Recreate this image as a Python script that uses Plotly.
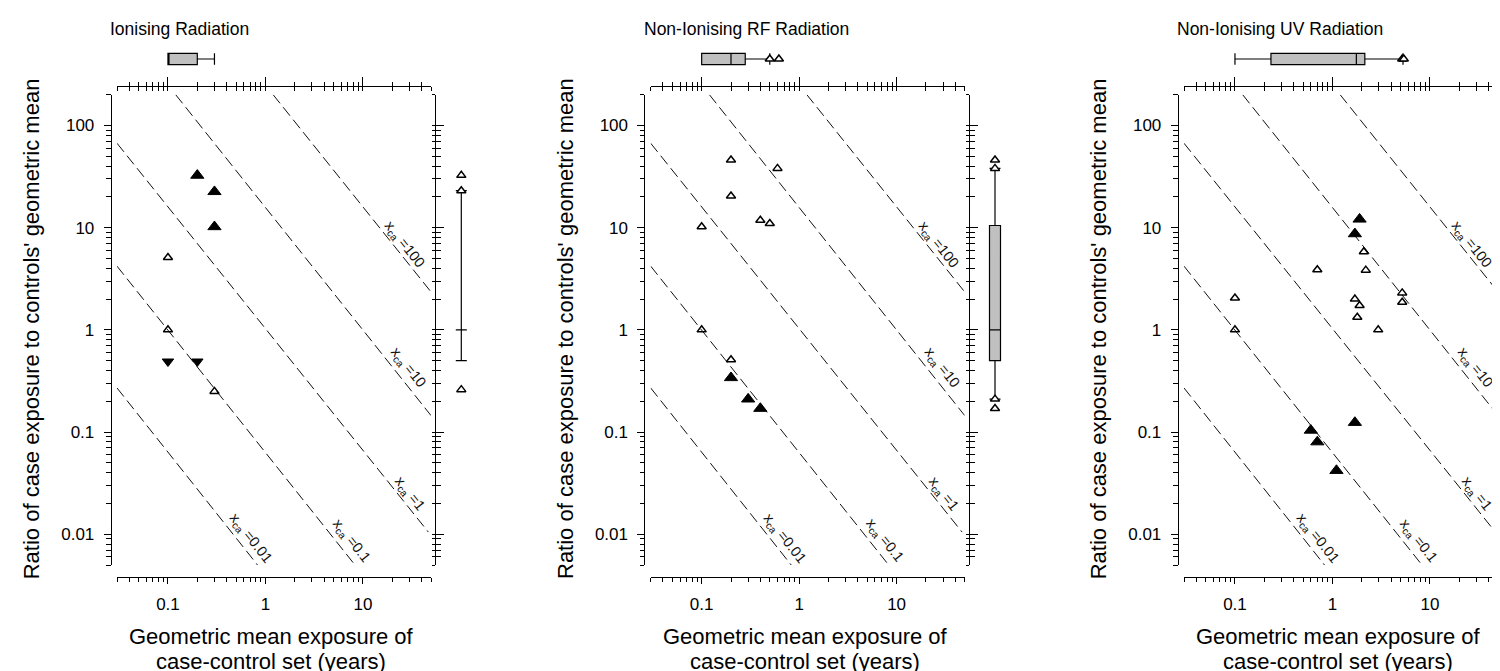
import math
import plotly.graph_objects as go

W, H = 1500, 671
FONT = "Arial, Liberation Sans, sans-serif"

# ---------------- data ----------------
panel_titles = ["Ionising Radiation", "Non-Ionising RF Radiation", "Non-Ionising UV Radiation"]

# Ionising radiation
ion_filled_up_x = [0.2, 0.3, 0.3]
ion_filled_up_y = [32.5, 22.5, 10.2]
ion_open_x = [0.1, 0.1, 0.3]
ion_open_y = [5.1, 1.0, 0.25]
ion_filled_down_x = [0.1, 0.2]
ion_filled_down_y = [0.49, 0.49]

# Non-ionising RF radiation
rf_filled_up_x = [0.2, 0.3, 0.4]
rf_filled_up_y = [0.34, 0.21, 0.17]
rf_open_x = [0.2, 0.6, 0.2, 0.1, 0.4, 0.5, 0.1, 0.2]
rf_open_y = [46, 38, 20.4, 10.2, 11.8, 11.0, 1.0, 0.51]

# Non-ionising UV radiation
uv_filled_up_x = [1.9, 1.7, 1.7, 0.6, 0.7, 1.1]
uv_filled_up_y = [12.1, 8.7, 0.124, 0.104, 0.080, 0.042]
uv_open_x = [0.1, 0.1, 0.7, 2.1, 2.2, 1.7, 1.9, 1.8, 2.95, 5.2, 5.2]
uv_open_y = [2.05, 1.0, 3.87, 5.8, 3.84, 2.0, 1.73, 1.33, 1.0, 2.3, 1.86]

# box plot statistics: [lower whisker, q1, median, q3, upper whisker]
ion_xbox = [0.1, 0.1, 0.1, 0.2, 0.3]
ion_xbox_out = []
ion_ybox = [0.5, 1.0, 1.0, 1.0, 23]
ion_ybox_out = [32.5, 23, 0.26]
rf_xbox = [0.1, 0.1, 0.2, 0.28, 0.5]
rf_xbox_out = [0.5, 0.62]
rf_ybox = [0.21, 0.5, 1.0, 10.5, 38]
rf_ybox_out = [46, 38, 0.21, 0.17]
uv_xbox = [0.1, 0.234, 1.76, 2.15, 5.3]
uv_xbox_out = [5.2, 5.4]

# reference lines of constant case exposure (x_ca), endpoints
iso_levels = ["0.01", "0.1", "1", "10", "100"]
iso_x0 = [0.03, 0.03, 0.03, 0.12, 1.2]
iso_y0 = [0.27, 4.2, 67, 200, 200]
iso_x1 = [0.83, 8.3, 47, 50, 50]
iso_y1 = [0.005, 0.005, 0.0105, 0.145, 2.35]
iso_label_x = [0.71, 7.6, 30, 29, 26.8]
iso_label_y = [0.009, 0.0086, 0.0247, 0.42, 6.8]

# axes
x_range = [0.03, 50]
y_range = [0.005, 200]
x_tickvals = [0.1, 1, 10]
x_ticktext = ["0.1", "1", "10"]
y_tickvals = [0.01, 0.1, 1, 10, 100]
y_ticktext = ["0.01", "0.1", "1", "10", "100"]
x_minor = [0.03, 0.04, 0.05, 0.06, 0.07, 0.08, 0.09,
           0.2, 0.3, 0.4, 0.5, 0.6, 0.7, 0.8, 0.9,
           2, 3, 4, 5, 6, 7, 8, 9, 20, 30, 40, 50]
y_minor = [0.005, 0.006, 0.007, 0.008, 0.009,
           0.02, 0.03, 0.04, 0.05, 0.06, 0.07, 0.08, 0.09,
           0.2, 0.3, 0.4, 0.5, 0.6, 0.7, 0.8, 0.9,
           2, 3, 4, 5, 6, 7, 8, 9,
           20, 30, 40, 50, 60, 70, 80, 90, 200]

x_title_lines = ["Geometric mean exposure of", "case-control set (years)"]
y_title = "Ratio of case exposure to controls' geometric mean"

panels = [
    dict(filled_up=(ion_filled_up_x, ion_filled_up_y), open=(ion_open_x, ion_open_y),
         filled_down=(ion_filled_down_x, ion_filled_down_y),
         xbox=ion_xbox, xbox_out=ion_xbox_out, ybox=ion_ybox, ybox_out=ion_ybox_out),
    dict(filled_up=(rf_filled_up_x, rf_filled_up_y), open=(rf_open_x, rf_open_y),
         filled_down=None,
         xbox=rf_xbox, xbox_out=rf_xbox_out, ybox=rf_ybox, ybox_out=rf_ybox_out),
    dict(filled_up=(uv_filled_up_x, uv_filled_up_y), open=(uv_open_x, uv_open_y),
         filled_down=None,
         xbox=uv_xbox, xbox_out=uv_xbox_out, ybox=None, ybox_out=[]),
]
offsets = [0, 533.7, 1067]


def fx(px):
    return px / W


def fy(py):
    return 1 - py / H


def aid(n):
    return "" if n == 1 else str(n)


lx = [math.log10(v) for v in x_range]
ly = [math.log10(v) for v in y_range]

fig = go.Figure()
layout = {}
annotations = []

tickfont = dict(size=17, color="black", family=FONT)
open_marker = dict(symbol="triangle-up-open", size=8, color="black",
                   line=dict(color="black", width=1.5))
outlier_marker = dict(symbol="triangle-up", size=8, color="white",
                      line=dict(color="black", width=1.5))

for i, p in enumerate(panels):
    o = offsets[i]
    b = 4 * i
    xM, xT, xT2, xR = b + 1, b + 2, b + 3, b + 4
    yM, yT, yR, yR2 = b + 1, b + 2, b + 3, b + 4
    xdom = [fx(109 + o), fx(423 + o)]
    ydom = [fy(557), fy(86.7)]

    # main axes
    layout["xaxis" + aid(xM)] = dict(
        type="log", range=lx, domain=xdom, anchor="free", position=fy(568.5),
        showline=True, linecolor="black", linewidth=1,
        ticks="outside", ticklen=6, tickwidth=1, tickcolor="black",
        tickmode="array", tickvals=x_tickvals, ticktext=x_ticktext,
        tickfont=tickfont, ticklabelstandoff=6,
        minor=dict(tickmode="array", tickvals=x_minor, ticks="outside", ticklen=4,
                   tickwidth=1, tickcolor="black", showgrid=False),
        showgrid=False, zeroline=False, fixedrange=True)
    layout["yaxis" + aid(yM)] = dict(
        type="log", range=ly, domain=ydom, anchor="free", position=fx(102.7 + o), side="left",
        showline=True, linecolor="black", linewidth=1,
        ticks="outside", ticklen=7, tickwidth=1, tickcolor="black",
        tickmode="array", tickvals=y_tickvals, ticktext=y_ticktext,
        tickfont=tickfont, ticklabelstandoff=6,
        minor=dict(tickmode="array", tickvals=y_minor, ticks="outside", ticklen=4.5,
                   tickwidth=1, tickcolor="black", showgrid=False),
        showgrid=False, zeroline=False, fixedrange=True)

    # top box-plot subplot
    layout["xaxis" + aid(xT)] = dict(
        type="log", range=lx, domain=xdom, anchor="y" + aid(yT), side="bottom",
        showline=True, linecolor="black", linewidth=1,
        ticks="inside", ticklen=9, tickwidth=1, tickcolor="black",
        tickmode="array", tickvals=x_tickvals, showticklabels=False,
        minor=dict(tickmode="array", tickvals=x_minor, ticks="inside", ticklen=4,
                   tickwidth=1, tickcolor="black", showgrid=False),
        showgrid=False, zeroline=False, fixedrange=True)
    layout["xaxis" + aid(xT2)] = dict(
        type="log", range=lx, overlaying="x" + aid(xT), anchor="y" + aid(yT), side="bottom",
        showline=False, ticks="outside", ticklen=4, tickwidth=1, tickcolor="black",
        tickmode="array", tickvals=x_tickvals, showticklabels=False,
        minor=dict(tickmode="array", tickvals=x_minor, ticks="outside", ticklen=4,
                   tickwidth=1, tickcolor="black", showgrid=False),
        showgrid=False, zeroline=False, fixedrange=True)
    layout["yaxis" + aid(yT)] = dict(
        domain=[fy(78), fy(24)], range=[-1, 1], visible=False,
        anchor="x" + aid(xT), fixedrange=True)

    # right box-plot subplot
    layout["xaxis" + aid(xR)] = dict(
        domain=[fx(428.3 + o), min(1.0, fx(478.3 + o))], range=[-1, 1], visible=False,
        anchor="y" + aid(yR), fixedrange=True)
    layout["yaxis" + aid(yR)] = dict(
        type="log", range=ly, domain=ydom, anchor="x" + aid(xR), side="left",
        showline=True, linecolor="black", linewidth=1,
        ticks="inside", ticklen=8, tickwidth=1, tickcolor="black",
        tickmode="array", tickvals=y_tickvals, showticklabels=False,
        minor=dict(tickmode="array", tickvals=y_minor, ticks="inside", ticklen=5,
                   tickwidth=1, tickcolor="black", showgrid=False),
        showgrid=False, zeroline=False, fixedrange=True)
    layout["yaxis" + aid(yR2)] = dict(
        type="log", range=ly, overlaying="y" + aid(yR), anchor="x" + aid(xR), side="left",
        showline=False, ticks="outside", ticklen=3.5, tickwidth=1, tickcolor="black",
        tickmode="array", tickvals=y_tickvals, showticklabels=False,
        minor=dict(tickmode="array", tickvals=y_minor, ticks="outside", ticklen=3.5,
                   tickwidth=1, tickcolor="black", showgrid=False),
        showgrid=False, zeroline=False, fixedrange=True)

    xa_m, ya_m = "x" + aid(xM), "y" + aid(yM)

    # reference lines
    for k in range(len(iso_levels)):
        fig.add_trace(go.Scatter(
            x=[iso_x0[k], iso_x1[k]], y=[iso_y0[k], iso_y1[k]], mode="lines",
            line=dict(color="#111111", width=1, dash="11px,5px"),
            xaxis=xa_m, yaxis=ya_m, hoverinfo="skip", showlegend=False))
        annotations.append(dict(
            xref=xa_m, yref=ya_m, x=math.log10(iso_label_x[k]), y=math.log10(iso_label_y[k]),
            text="x<sub>ca</sub> =" + iso_levels[k], textangle=51.5, showarrow=False,
            xanchor="center", yanchor="middle",
            font=dict(size=14.5, color="#111111", family=FONT)))

    # data points
    ox, oy = p["open"]
    fig.add_trace(go.Scatter(
        x=ox, y=oy, mode="markers", xaxis=xa_m, yaxis=ya_m, showlegend=False,
        marker=open_marker))
    fx_, fy_ = p["filled_up"]
    fig.add_trace(go.Scatter(
        x=fx_, y=fy_, mode="markers", xaxis=xa_m, yaxis=ya_m, showlegend=False,
        marker=dict(symbol="triangle-up", size=11.5, color="black",
                    line=dict(color="black", width=1))))
    if p["filled_down"] is not None:
        dx, dy = p["filled_down"]
        fig.add_trace(go.Scatter(
            x=dx, y=dy, mode="markers", xaxis=xa_m, yaxis=ya_m, showlegend=False,
            marker=dict(symbol="triangle-down", size=10, color="black",
                        line=dict(color="black", width=1))))

    # top box plot (x distribution)
    xa_t, ya_t = "x" + aid(xT), "y" + aid(yT)
    lo, q1, md, q3, up = p["xbox"]
    fig.add_trace(go.Box(
        orientation="h", y=[0], q1=[q1], median=[md], q3=[q3],
        lowerfence=[lo], upperfence=[up], boxpoints=False, width=0.42, whiskerwidth=1,
        fillcolor="#c0c0c0", line=dict(color="black", width=1.2),
        xaxis=xa_t, yaxis=ya_t, showlegend=False, hoverinfo="skip"))
    if p["xbox_out"]:
        fig.add_trace(go.Scatter(
            x=p["xbox_out"], y=[0] * len(p["xbox_out"]), mode="markers",
            xaxis=xa_t, yaxis=ya_t, showlegend=False, cliponaxis=False,
            marker=outlier_marker))
    fig.add_trace(go.Scatter(x=[None], y=[None], xaxis="x" + aid(xT2), yaxis=ya_t,
                             showlegend=False, hoverinfo="skip"))

    # right box plot (y distribution)
    xa_r, ya_r = "x" + aid(xR), "y" + aid(yR)
    if p["ybox"] is not None:
        lo, q1, md, q3, up = p["ybox"]
        fig.add_trace(go.Box(
            orientation="v", x=[0], q1=[q1], median=[md], q3=[q3],
            lowerfence=[lo], upperfence=[up], boxpoints=False, width=0.44, whiskerwidth=1,
            fillcolor="#c0c0c0", line=dict(color="black", width=1.2),
            xaxis=xa_r, yaxis=ya_r, showlegend=False, hoverinfo="skip"))
        if p["ybox_out"]:
            fig.add_trace(go.Scatter(
                x=[0] * len(p["ybox_out"]), y=p["ybox_out"], mode="markers",
                xaxis=xa_r, yaxis=ya_r, showlegend=False, cliponaxis=False,
                marker=outlier_marker))
    else:
        fig.add_trace(go.Scatter(x=[None], y=[None], xaxis=xa_r, yaxis=ya_r,
                                 showlegend=False, hoverinfo="skip"))
    fig.add_trace(go.Scatter(x=[None], y=[None], xaxis=xa_r, yaxis="y" + aid(yR2),
                             showlegend=False, hoverinfo="skip"))

    # texts
    annotations.append(dict(
        xref="paper", yref="paper", x=fx(100 + o), y=fy(21), text=panel_titles[i],
        showarrow=False, xanchor="left", yanchor="middle",
        font=dict(size=17.5, color="black", family=FONT)))
    annotations.append(dict(
        xref="paper", yref="paper", x=fx(23.3 + o), y=fy(321), text=y_title, textangle=-90,
        showarrow=False, xanchor="center", yanchor="middle",
        font=dict(size=22, color="black", family=FONT)))
    for j, line in enumerate(x_title_lines):
        annotations.append(dict(
            xref="paper", yref="paper", x=fx(263.3 + o), y=fy(628 + 25.5 * j), text=line,
            showarrow=False, xanchor="center", yanchor="middle", borderpad=0,
            font=dict(size=22, color="black", family=FONT)))

fig.update_layout(**layout)
fig.update_layout(
    width=W, height=H, margin=dict(l=0, r=0, t=0, b=0),
    paper_bgcolor="white", plot_bgcolor="rgba(0,0,0,0)",
    showlegend=False, annotations=annotations,
    font=dict(family=FONT, color="black"))

fig.write_html("out.html")
